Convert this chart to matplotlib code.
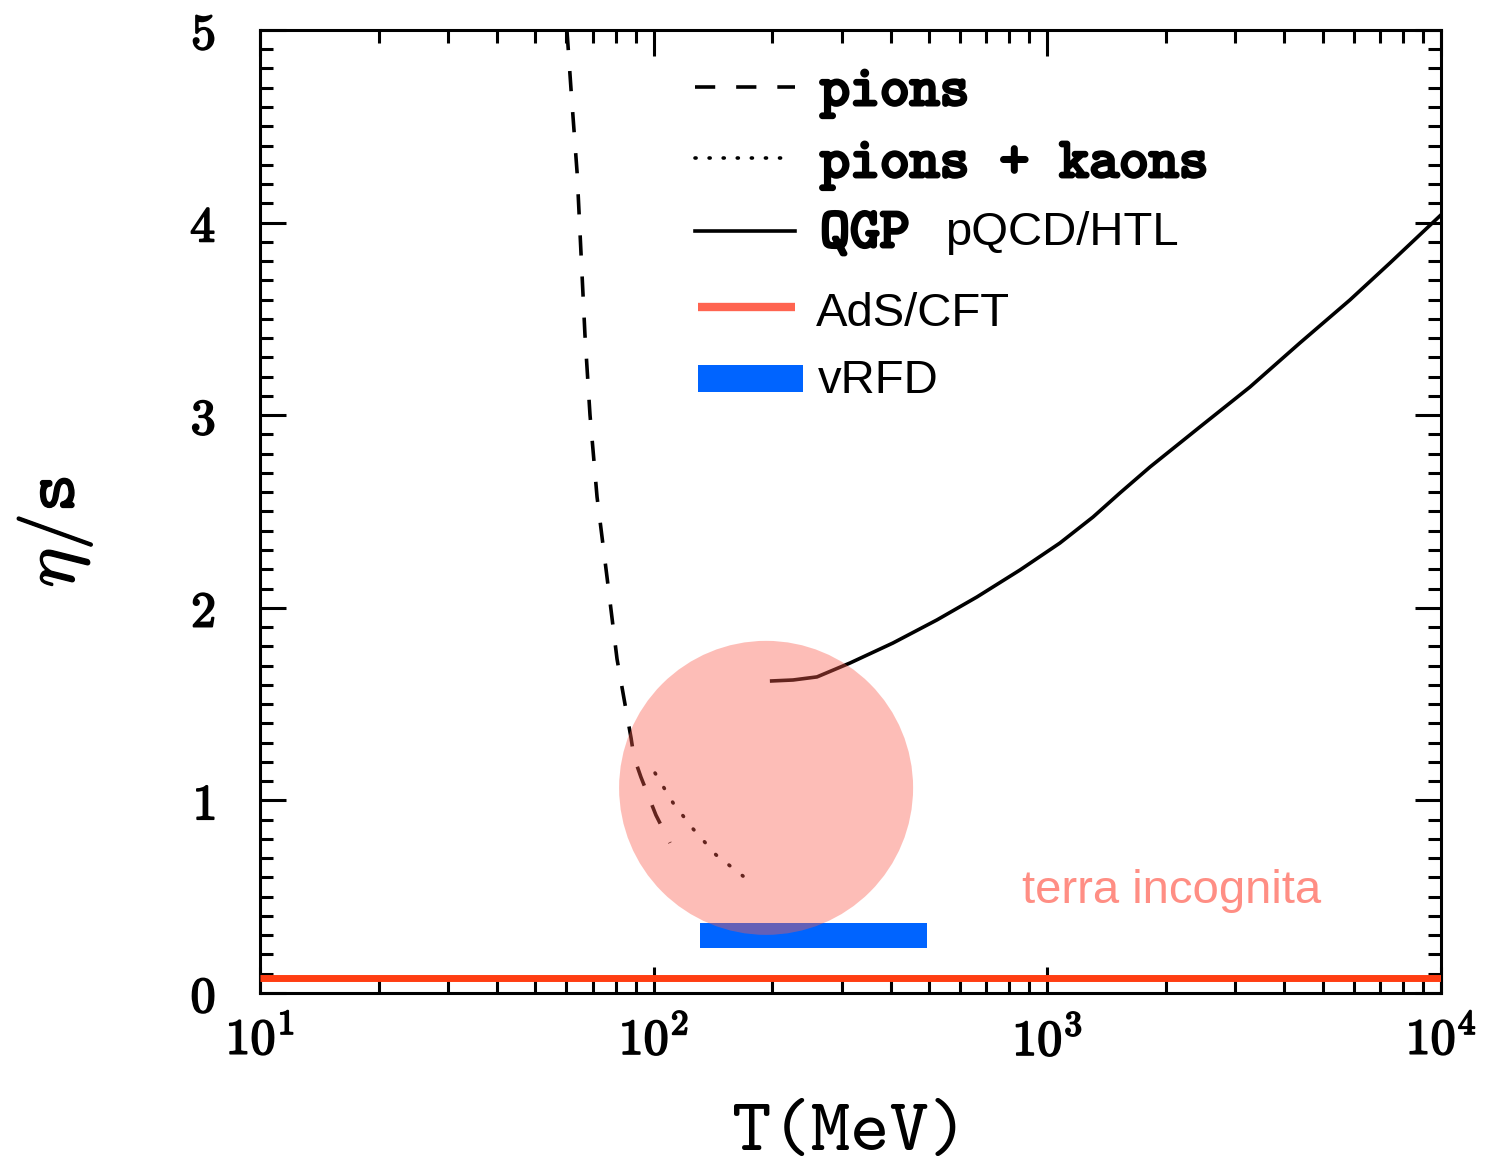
import os
import numpy as np
import matplotlib
matplotlib.use('Agg')
import matplotlib.pyplot as plt
import matplotlib.ticker as mticker
import matplotlib.transforms as mtransforms
import matplotlib.patheffects as pe
from matplotlib.font_manager import FontProperties
from matplotlib.patches import Circle, Rectangle

plt.rcParams['mathtext.fontset'] = 'cm'

# 读图得到的数据 (T 单位 MeV)
pion_T = [60.2, 61.7, 63.9, 65.4, 66.9, 68.9, 71.8, 76.1, 80.7, 84.1, 87.6, 89.1, 92.8, 101.3, 110.0]
pion_eta = [5.0, 4.683, 4.258, 3.832, 3.416, 3.001, 2.575, 2.160, 1.734, 1.526, 1.324, 1.225, 1.121, 0.924, 0.779]

pk_T = [100.8, 112.0, 125.9, 144.0, 168.6]
pk_eta = [1.142, 0.987, 0.852, 0.717, 0.607]

qgp_T = [199.4, 225.9, 259.9, 315.1, 405.3, 524.4, 662.4, 852.0, 1076.0, 1306.0, 1529.0,
         1823.0, 2441.0, 3270.0, 4381.0, 5869.0, 7418.0, 10000.0]
qgp_eta = [1.620, 1.625, 1.641, 1.713, 1.817, 1.937, 2.056, 2.196, 2.336, 2.471, 2.596,
           2.731, 2.939, 3.146, 3.375, 3.598, 3.790, 4.04]

ads_T = [10.0, 10000.0]
ads_eta = 1.0 / (4.0 * np.pi)

vrfd_T = [131.0, 494.0]
vrfd_lo, vrfd_hi = 0.235, 0.365

blob_T, blob_eta = 193.0, 1.065

xtick_vals = [10, 100, 1000, 10000]
xtick_labels = [r'$\mathbf{10^{1}}$', r'$\mathbf{10^{2}}$', r'$\mathbf{10^{3}}$', r'$\mathbf{10^{4}}$']
ytick_vals = [0, 1, 2, 3, 4, 5]
ytick_labels = [r'$\mathbf{%d}$' % v for v in ytick_vals]

tt = FontProperties(fname=os.path.join(matplotlib.get_data_path(), 'fonts', 'ttf', 'cmtt10.ttf'))

fig = plt.figure(figsize=(14.97, 11.70), dpi=100)
ax = fig.add_axes([0.1737, 0.1513, 0.7889, 0.8231])

lw = 2.6
ax.plot(pion_T, pion_eta, color='black', lw=lw, linestyle=(0, (5.6, 5.8)), zorder=2)
ax.plot(pk_T, pk_eta, color='black', lw=lw, linestyle=(0, (0.3, 4.4)),
        dash_capstyle='round', zorder=2)
ax.plot(qgp_T, qgp_eta, color='black', lw=lw, zorder=2)
ax.plot(ads_T, [ads_eta, ads_eta], color='#ff3d12', lw=5, solid_capstyle='butt', zorder=4)
ax.fill_between(vrfd_T, vrfd_lo, vrfd_hi, color='#0064ff', lw=0, zorder=2)

# 圆形区域
trans = fig.dpi_scale_trans + mtransforms.ScaledTranslation(blob_T, blob_eta, ax.transData)
ax.add_patch(Circle((0, 0), radius=1.47, transform=trans, facecolor='#fa5c4d',
                    alpha=0.4, edgecolor='none', zorder=3))

ax.set_xscale('log')
ax.set_xlim(10, 10000)
ax.set_ylim(0, 5)
ax.set_xticks(xtick_vals, xtick_labels)
ax.set_yticks(ytick_vals, ytick_labels)
ax.xaxis.set_minor_locator(mticker.LogLocator(base=10, subs=np.arange(2, 10)))
ax.xaxis.set_minor_formatter(mticker.NullFormatter())
ax.yaxis.set_minor_locator(mticker.MultipleLocator(0.1))
ax.tick_params(which='both', direction='in', top=True, right=True, width=2.2, labelsize=36)
ax.tick_params(which='major', length=19)
ax.tick_params(which='minor', length=9.5)
ax.tick_params(axis='x', which='major', pad=16)
ax.tick_params(axis='y', which='major', pad=32)
for s in ax.spines.values():
    s.set_linewidth(2.2)
for lab in ax.get_xticklabels() + ax.get_yticklabels():
    lab.set_path_effects([pe.withStroke(linewidth=1.3, foreground='black')])

ax.set_xlabel('T(MeV)', fontproperties=tt, fontsize=54)
ax.xaxis.set_label_coords(0.5, -0.1475)
ax.xaxis.label.set_va('center')
ax.set_ylabel(r'$\eta/\mathtt{s}$', fontsize=54)
ax.yaxis.set_label_coords(-0.1736, 0.4787)
ax.yaxis.label.set_va('center')
ax.yaxis.label.set_path_effects([pe.withStroke(linewidth=1.0, foreground='black')])

# 图例 (手动)
tr = ax.transAxes
bold = [pe.withStroke(linewidth=2.2, foreground='black')]
ax.plot([0.3683, 0.4530], [0.9408, 0.9408], transform=tr, color='black', lw=lw,
        linestyle=(0, (5.6, 5.8)), clip_on=False)
ax.plot([0.3683, 0.4445], [0.8671, 0.8671], transform=tr, color='black', lw=lw,
        linestyle=(0, (0.3, 3.6)), dash_capstyle='round', clip_on=False)
ax.plot([0.3683, 0.4530], [0.7913, 0.7913], transform=tr, color='black', lw=lw, clip_on=False)
ax.plot([0.3709, 0.4530], [0.7124, 0.7124], transform=tr, color='#ff6450', lw=6,
        solid_capstyle='butt', clip_on=False)
ax.add_patch(Rectangle((0.3709, 0.6241), 0.0889, 0.028, transform=tr,
                       facecolor='#0064ff', edgecolor='none'))

ax.text(0.4742, 0.9221, 'pions', transform=tr, fontproperties=tt, fontsize=41,
        va='baseline', path_effects=bold)
ax.text(0.4742, 0.8474, 'pions + kaons', transform=tr, fontproperties=tt, fontsize=41,
        va='baseline', path_effects=bold)
ax.text(0.4742, 0.7747, 'QGP', transform=tr, fontproperties=tt, fontsize=41,
        va='baseline', path_effects=bold)
ax.text(0.5800, 0.7767, 'pQCD/HTL', transform=tr, family='Liberation Sans', fontsize=34,
        va='baseline')
ax.text(0.4708, 0.6926, 'AdS/CFT', transform=tr, family='Liberation Sans', fontsize=34,
        va='baseline')
ax.text(0.4725, 0.6231, 'vRFD', transform=tr, family='Liberation Sans', fontsize=34,
        va='baseline')

ax.text(0.6452, 0.0935, 'terra incognita', transform=tr, family='Liberation Sans',
        fontsize=34, color='#ff8e84', va='baseline', zorder=5)

fig.savefig('out.png', dpi=100)
